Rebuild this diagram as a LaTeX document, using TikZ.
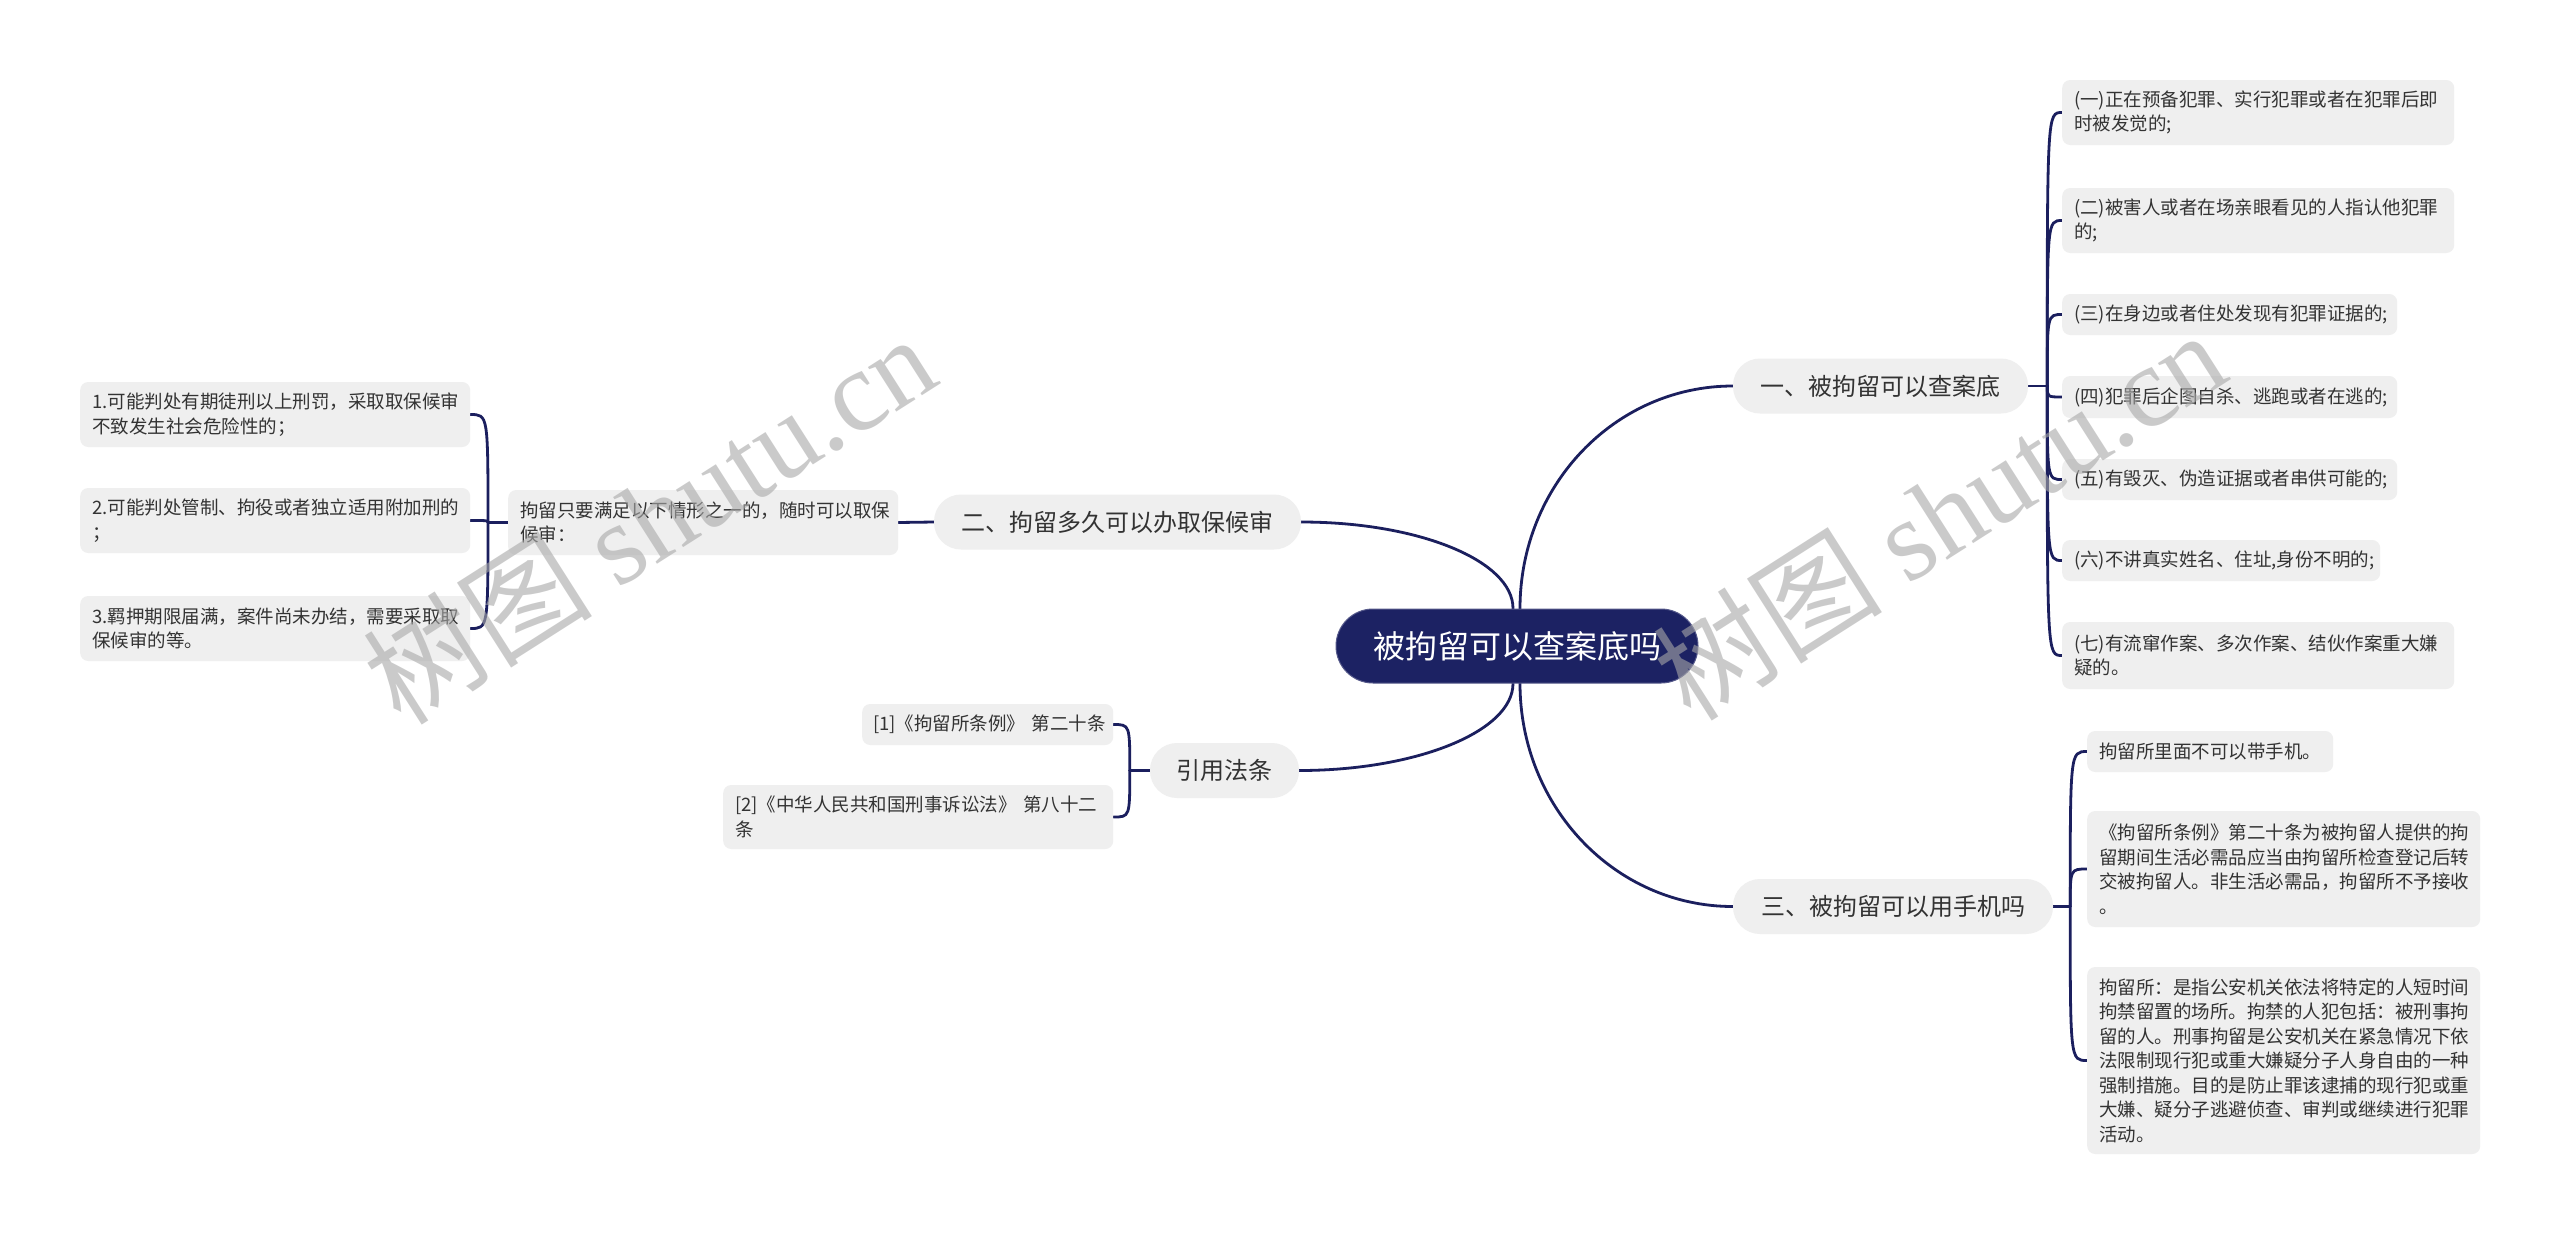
\documentclass[tikz,border=0pt]{standalone}
\usepackage{fontspec}
\setmainfont{Noto Sans CJK SC}
\newfontfamily\wmlatin{Liberation Serif}
\usetikzlibrary{calc}
\definecolor{navy}{HTML}{1B1F5E}
\definecolor{rootfill}{HTML}{1C2263}
\definecolor{boxgray}{HTML}{EFEFEF}
\definecolor{txt}{HTML}{333333}
\definecolor{wmgray}{HTML}{A8A8A8}
\pgfdeclarelayer{paper}
\pgfdeclarelayer{links}
\pgfsetlayers{paper,links,main}
\tikzset{
 conn/.style={draw=navy, line width=2.8pt, line cap=round},
 leaf/.style={rectangle, rounded corners=8pt, fill=boxgray, inner xsep=12pt, inner ysep=3pt,
   font=\fontsize{18.5}{24.5}\selectfont, text=txt, align=left, anchor=west},
 branch/.style={rectangle, rounded corners=27pt, fill=boxgray, inner sep=0pt,
   font=\fontsize{24}{28}\selectfont, text=txt, minimum height=55pt},
 rootbox/.style={rectangle, rounded corners=37pt, fill=rootfill, draw=rootfill!75!white, line width=1pt,
   inner sep=0pt, font=\fontsize{32}{36}\selectfont, text=white, minimum width=362pt, minimum height=74pt},
 wm/.style={font=\fontsize{115}{120}\selectfont, text=wmgray, text opacity=0.6, rotate=32.5, inner sep=0pt}
}
\begin{document}
\begin{tikzpicture}[x=1pt,y=-1pt]
\path[use as bounding box] (0,0) rectangle (2560,1235);
\begin{pgfonlayer}{paper}
\fill[white] (0,0) rectangle (2560,1235);
\end{pgfonlayer}

% root and branches
\node[rootbox] (root) at (1517,646) {被拘留可以查案底吗};
\node[branch, minimum width=295pt] (b1) at (1880.5,386) {一、被拘留可以查案底};
\node[branch, minimum width=367pt] (b2) at (1117.5,522) {二、拘留多久可以办取保候审};
\node[branch, minimum width=320pt] (b3) at (1893,906.5) {三、被拘留可以用手机吗};
\node[branch, minimum width=149pt] (b4) at (1224.5,770.5) {引用法条};

% branch 1 leaves
\node[leaf, text width=368pt, minimum height=65pt] (l1) at (2062,112.5) {(一)正在预备犯罪、实行犯罪或者在犯罪后即\\时被发觉的;};
\node[leaf, text width=368pt, minimum height=65pt] (l2) at (2062,220.5) {(二)被害人或者在场亲眼看见的人指认他犯罪\\的;};
\node[leaf, text width=311pt, minimum height=41pt] (l3) at (2062,314.5) {(三)在身边或者住处发现有犯罪证据的;};
\node[leaf, text width=311pt, minimum height=42pt] (l4) at (2062,397) {(四)犯罪后企图自杀、逃跑或者在逃的;};
\node[leaf, text width=311pt, minimum height=41pt] (l5) at (2062,479.5) {(五)有毁灭、伪造证据或者串供可能的;};
\node[leaf, text width=294pt, minimum height=41pt] (l6) at (2062,560.5) {(六)不讲真实姓名、住址,身份不明的;};
\node[leaf, text width=368pt, minimum height=67pt] (l7) at (2062,655.5) {(七)有流窜作案、多次作案、结伙作案重大嫌\\疑的。};

% branch 3 leaves
\node[leaf, text width=222pt, minimum height=41pt] (m1) at (2087,751.5) {拘留所里面不可以带手机。};
\node[leaf, text width=369pt, minimum height=116pt] (m2) at (2087,869) {《拘留所条例》第二十条为被拘留人提供的拘\\留期间生活必需品应当由拘留所检查登记后转\\交被拘留人。非生活必需品，拘留所不予接收\\。};
\node[leaf, text width=369pt, minimum height=187pt] (m3) at (2087,1060.5) {拘留所：是指公安机关依法将特定的人短时间\\拘禁留置的场所。拘禁的人犯包括：被刑事拘\\留的人。刑事拘留是公安机关在紧急情况下依\\法限制现行犯或重大嫌疑分子人身自由的一种\\强制措施。目的是防止罪该逮捕的现行犯或重\\大嫌、疑分子逃避侦查、审判或继续进行犯罪\\活动。};

% branch 2 sub and leaves
\node[leaf, text width=366pt, minimum height=65pt] (sub) at (508,522.5) {拘留只要满足以下情形之一的，随时可以取保\\候审：};
\node[leaf, text width=366pt, minimum height=65pt] (p1) at (80,414.5) {1.可能判处有期徒刑以上刑罚，采取取保候审\\不致发生社会危险性的；};
\node[leaf, text width=366pt, minimum height=65pt] (p2) at (80,520.5) {2.可能判处管制、拘役或者独立适用附加刑的\\；};
\node[leaf, text width=366pt, minimum height=65pt] (p3) at (80,628.5) {3.羁押期限届满，案件尚未办结，需要采取取\\保候审的等。};

% branch 4 leaves
\node[leaf, inner xsep=8pt, text width=235pt, minimum height=41pt] (r1) at (862,724.5) {\mbox{\hspace{3pt}[1]《拘留所条例》 第二十条}};
\node[leaf, text width=366pt, minimum height=64pt] (r2) at (723,817) {[2]《中华人民共和国刑事诉讼法》 第八十二\\条};

% junction points
\coordinate (j1) at ([xshift=19pt]b1.east);
\coordinate (j3) at ([xshift=17pt]b3.east);
\coordinate (j2) at ([xshift=-20pt]sub.west);
\coordinate (j4) at ([xshift=-20pt]b4.west);
\coordinate (rtR) at ([xshift=3pt]root.north);
\coordinate (rtL) at ([xshift=-4pt]root.north);
\coordinate (rbR) at ([xshift=3pt]root.south);
\coordinate (rbL) at ([xshift=-4pt]root.south);

\begin{pgfonlayer}{links}
\draw[conn] ([xshift=3pt]root.center) -- (rtR) .. controls +(0,-123) and +(-118,0) .. (b1.west);
\draw[conn] ([xshift=-4pt]root.center) -- (rtL) .. controls +(0,-48) and +(117,0) .. (b2.east);
\draw[conn] ([xshift=3pt]root.center) -- (rbR) .. controls +(0,123) and +(-118,0) .. (b3.west);
\draw[conn] ([xshift=-4pt]root.center) -- (rbL) .. controls +(0,48) and +(117,0) .. (b4.east);

\draw[conn] (b1.east) -- (j1);
\foreach \n in {l1,l2,l3,l4,l5,l6,l7} \draw[conn] (j1) .. controls (j1 |- \n.west) .. (\n.west);
\draw[conn] (b3.east) -- (j3);
\foreach \n in {m1,m2,m3} \draw[conn] (j3) .. controls (j3 |- \n.west) .. (\n.west);
\draw[conn] (b2.west) -- (sub.east);
\draw[conn] (sub.west) -- (j2);
\foreach \n in {p1,p2,p3} \draw[conn] (j2) .. controls (j2 |- \n.east) .. (\n.east);
\draw[conn] (b4.west) -- (j4);
\foreach \n in {r1,r2} \draw[conn] (j4) .. controls (j4 |- \n.east) .. (\n.east);
\end{pgfonlayer}

% watermarks
\node[wm] (wm1) at (649,518) {树图 {\wmlatin shutu.cn}};
\node[wm] (wm2) at (1939,514) {树图 {\wmlatin shutu.cn}};
\end{tikzpicture}
\end{document}
